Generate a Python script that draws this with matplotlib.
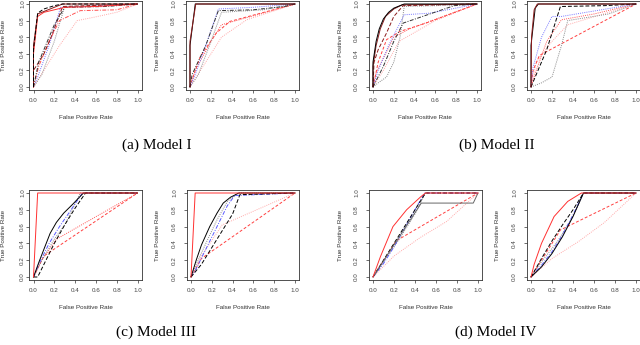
import matplotlib
matplotlib.use("Agg")
import matplotlib.pyplot as plt

# ROC curves: (style key, fpr points, tpr points)
roc_1a = [
    ("p:", [0, 0.1, 0.25, 0.42, 0.58, 0.8, 1], [0, 0.2, 0.5, 0.8, 0.84, 0.9, 1]),
    ("g:", [0, 0.08, 0.2, 0.3, 0.6, 1], [0, 0.15, 0.55, 0.97, 0.98, 1]),
    ("b:", [0, 0.04, 0.15, 0.26, 0.5, 1], [0, 0.12, 0.5, 0.96, 0.97, 1]),
    ("r-.", [0, 0.05, 0.15, 0.25, 0.45, 0.8, 1], [0, 0.25, 0.55, 0.8, 0.92, 0.93, 1]),
    ("dr--", [0, 0, 0.1, 0.16, 0.28, 1], [0, 0.2, 0.4, 0.57, 0.97, 1]),
    ("k-.", [0, 0.05, 0.2, 0.3, 0.7, 1], [0, 0.3, 0.75, 0.96, 0.97, 1]),
    ("r-", [0, 0, 0.04, 0.1, 0.3, 0.6, 1], [0, 0.4, 0.85, 0.9, 0.96, 0.97, 1]),
    ("dr-", [0, 0, 0.04, 0.28, 1], [0, 0.5, 0.88, 1, 1]),
    ("k--", [0, 0, 0.04, 0.1, 0.2, 0.28, 1], [0, 0.45, 0.89, 0.94, 0.98, 1, 1]),
]
roc_1b = [
    ("p:", [0, 0.1, 0.3, 0.54, 1], [0, 0.2, 0.6, 0.81, 1]),
    ("r--", [0, 0.05, 0.1, 0.25, 0.38, 1], [0, 0.2, 0.37, 0.65, 0.79, 1]),
    ("r:", [0, 0.05, 0.2, 0.3, 1], [0, 0.2, 0.55, 0.75, 1]),
    ("g:", [0, 0.08, 0.2, 0.3, 0.7, 1], [0, 0.15, 0.55, 0.9, 0.93, 1]),
    ("b:", [0, 0.05, 0.15, 0.27, 0.6, 1], [0, 0.15, 0.5, 0.94, 0.96, 1]),
    ("k-.", [0, 0.02, 0.15, 0.27, 0.6, 0.9, 1], [0, 0.15, 0.5, 0.92, 0.93, 0.97, 1]),
    ("k-", [0, 0, 0.05, 1], [0, 0.5, 1, 1]),
    ("dr-", [0, 0, 0.055, 1], [0, 0.55, 1, 1]),
]
roc_2a = [
    ("p:", [0, 0.1, 0.25, 0.6, 1], [0, 0.2, 0.55, 0.8, 1]),
    ("r:", [0, 0.03, 0.12, 0.2, 0.35, 1], [0, 0.17, 0.4, 0.6, 0.7, 1]),
    ("r--", [0, 0.05, 0.13, 0.26, 0.51, 1], [0, 0.3, 0.57, 0.67, 0.77, 1]),
    ("g:", [0, 0.05, 0.13, 0.2, 0.26, 0.3, 0.6, 1], [0, 0.05, 0.12, 0.3, 0.6, 0.97, 0.98, 1]),
    ("b:", [0, 0.05, 0.15, 0.3, 0.55, 1], [0, 0.2, 0.5, 0.87, 0.89, 1]),
    ("k-.", [0, 0.1, 0.2, 0.29, 0.78, 1], [0, 0.25, 0.55, 0.77, 0.98, 1]),
    ("dr--", [0, 0.01, 0.05, 0.13, 0.2, 0.29, 1], [0, 0.3, 0.45, 0.65, 0.85, 0.98, 1]),
    ("dr-", [0, 0, 0.03, 0.07, 0.12, 0.2, 0.28, 1], [0, 0.25, 0.5, 0.7, 0.85, 0.94, 0.99, 1]),
    ("k-", [0, 0, 0.03, 0.06, 0.1, 0.15, 0.2, 0.3, 1], [0, 0.3, 0.55, 0.7, 0.82, 0.9, 0.95, 1, 1]),
]
roc_2b = [
    ("p:", [0, 0.05, 0.2, 0.35, 1], [0, 0.3, 0.55, 0.75, 1]),
    ("r--", [0, 0.02, 0.08, 1], [0, 0.2, 0.38, 1]),
    ("r:", [0, 0.05, 0.15, 0.29, 0.6, 1], [0, 0.2, 0.55, 0.81, 0.88, 1]),
    ("g:", [0, 0.1, 0.2, 0.29, 0.35, 0.74, 1], [0, 0.05, 0.12, 0.5, 0.8, 0.88, 1]),
    ("b:", [0, 0.02, 0.1, 0.2, 0.29, 1], [0, 0.24, 0.6, 0.85, 0.85, 1]),
    ("k--", [0, 0.05, 0.15, 0.28, 0.7, 1], [0, 0.15, 0.45, 0.97, 0.98, 1]),
    ("k-", [0, 0, 0.04, 0.07, 1], [0, 0.5, 0.95, 1, 1]),
    ("dr-", [0, 0.005, 0.03, 0.06, 1], [0, 0.6, 0.93, 1, 1]),
]
roc_3a = [
    ("r--", [0, 0.1, 1], [0, 0.25, 1]),
    ("r:", [0, 0.08, 0.22, 1], [0, 0.2, 0.45, 1]),
    ("g:", [0, 0.08, 0.2, 0.3, 0.45, 1], [0, 0.2, 0.45, 0.62, 1, 1]),
    ("b-.", [0, 0.05, 0.15, 0.25, 0.35, 0.47, 1], [0, 0.15, 0.4, 0.6, 0.78, 1, 1]),
    ("k--", [0, 0.04, 0.1, 0.2, 0.3, 0.4, 0.5, 1], [0, 0, 0.15, 0.4, 0.62, 0.82, 1, 1]),
    ("k-", [0, 0.05, 0.1, 0.16, 0.22, 0.29, 0.38, 0.48, 1], [0, 0.17, 0.33, 0.52, 0.65, 0.76, 0.87, 1, 1]),
    ("r-", [0, 0.04, 1], [0, 1, 1]),
]
roc_3b = [
    ("r--", [0, 0.1, 1], [0, 0.22, 1]),
    ("p:", [0, 0.1, 0.3, 1], [0, 0.25, 0.62, 1]),
    ("g:", [0, 0.05, 0.15, 0.25, 0.35, 0.45, 1], [0, 0.15, 0.42, 0.68, 0.9, 1, 1]),
    ("b-.", [0, 0.05, 0.15, 0.25, 0.35, 0.42, 1], [0, 0.1, 0.35, 0.6, 0.85, 0.97, 1]),
    ("k--", [0, 0.1, 0.2, 0.3, 0.4, 0.47, 1], [0, 0.15, 0.35, 0.55, 0.75, 0.98, 1]),
    ("k-", [0, 0.05, 0.1, 0.18, 0.25, 0.31, 0.38, 0.46, 1], [0, 0.2, 0.38, 0.6, 0.76, 0.88, 0.95, 1, 1]),
    ("r-", [0, 0.04, 1], [0, 1, 1]),
]
roc_4a = [
    ("p:", [0, 0.2, 0.45, 0.7, 1], [0, 0.25, 0.47, 0.66, 1]),
    ("r--", [0, 0.22, 1], [0, 0.43, 1]),
    ("g:", [0, 0.1, 0.25, 0.4, 0.5, 1], [0, 0.18, 0.45, 0.75, 1, 1]),
    ("b-.", [0, 0.1, 0.2, 0.3, 0.4, 0.49, 1], [0, 0.16, 0.36, 0.58, 0.8, 1, 1]),
    ("k--", [0, 0.1, 0.2, 0.3, 0.4, 0.5, 1], [0, 0.2, 0.4, 0.6, 0.8, 1, 1]),
    ("gr-", [0, 0.46, 0.955, 1], [0, 0.88, 0.88, 1]),
    ("r-", [0, 0.07, 0.19, 0.32, 0.45, 0.5, 1], [0, 0.24, 0.6, 0.8, 0.95, 1, 1]),
]
roc_4b = [
    ("p:", [0, 0.2, 0.45, 0.7, 1], [0, 0.22, 0.42, 0.65, 1]),
    ("r--", [0, 0.28, 1], [0, 0.56, 1]),
    ("g:", [0, 0.1, 0.25, 0.4, 0.5, 1], [0, 0.18, 0.42, 0.72, 1, 1]),
    ("b-.", [0, 0.1, 0.2, 0.3, 0.4, 0.5, 1], [0, 0.14, 0.3, 0.5, 0.74, 1, 1]),
    ("k--", [0, 0.1, 0.2, 0.3, 0.4, 0.5, 1], [0, 0.22, 0.43, 0.62, 0.8, 1, 1]),
    ("k-", [0, 0.1, 0.2, 0.3, 0.4, 0.5, 1], [0, 0.12, 0.28, 0.48, 0.72, 1, 1]),
    ("r-", [0, 0.03, 0.1, 0.22, 0.35, 0.48, 1], [0, 0.15, 0.4, 0.72, 0.9, 1, 1]),
]

captions = ["(a) Model I", "(b) Model II", "(c) Model III", "(d) Model IV"]
ticks = [0.0, 0.2, 0.4, 0.6, 0.8, 1.0]

styles = {
    "k-": ("black", "-"), "dr-": ("#8b1a1a", "-"), "r-": ("#ff3030", "-"),
    "gr-": ("#666666", "-"),
    "k--": ("black", (0, (4, 2))), "dr--": ("#8b1a1a", (0, (4, 2))),
    "r--": ("#ff4040", (0, (3, 2))),
    "k-.": ("#333333", (0, (4, 1.5, 1, 1.5))), "r-.": ("#ff5050", (0, (4, 1.5, 1, 1.5))),
    "b-.": ("#5a5aff", (0, (4, 1.5, 1, 1.5))),
    "b:": ("#7777ff", (0, (1, 1.2))), "g:": ("#888888", (0, (1, 1.2))),
    "r:": ("#ff5555", (0, (1, 1.2))), "p:": ("#ffaaaa", (0, (1, 1.2))),
}

W, H = 640, 345
fig = plt.figure(figsize=(6.4, 3.45), dpi=100)


def px_axes(x0, x1, ytop, ybot):
    # x0/x1: pixel of data 0 and 1; ytop/ybot: pixel of data 1 and 0 (R 4% padding)
    sx = (x1 - x0) * 0.04
    sy = (ybot - ytop) * 0.04
    left, right = x0 - sx, x1 + sx
    top, bot = ytop - sy, ybot + sy
    ax = fig.add_axes([left / W, 1 - bot / H, (right - left) / W, (bot - top) / H])
    return ax, left, right


def draw(ax, curves, left, right, ylab_px, pad_y):
    for key, fpr, tpr in curves:
        c, ls = styles[key]
        ax.plot(fpr, tpr, color=c, linestyle=ls, linewidth=0.7)
    ax.set_xlim(-0.04, 1.04)
    ax.set_ylim(-0.04, 1.04)
    ax.set_xticks(ticks)
    ax.set_yticks(ticks)
    ax.set_xticklabels(["%.1f" % t for t in ticks])
    ax.set_yticklabels(["%.1f" % t for t in ticks], rotation=90, va="center")
    ax.tick_params(direction="out", length=2.5, width=0.5, labelsize=4.5,
                   colors="#333333", labelcolor="#444444")
    ax.tick_params(axis="x", pad=3)
    ax.tick_params(axis="y", pad=pad_y)
    for lab in ax.get_xticklabels() + ax.get_yticklabels():
        lab.set_family("Liberation Sans")
    for s in ax.spines.values():
        s.set_linewidth(0.6)
        s.set_color("#333333")
    ax.set_xlabel("False Positive Rate", fontsize=4.5, family="Liberation Sans", color="#333333")
    ax.set_ylabel("True Positive Rate", fontsize=4.5, family="Liberation Sans", color="#333333")
    ax.xaxis.set_label_coords(0.5, -0.27)
    ax.yaxis.set_label_coords((ylab_px - left) / (right - left), 0.5)


panels = [
    (roc_1a, 33.5, 137.5, 4, 87, 6, 0.5),
    (roc_1b, 190, 295, 4, 87, 160, 4.5),
    (roc_2a, 373, 477, 4, 87, 343, 4.5),
    (roc_2b, 531, 636, 4, 87, 500, 4.5),
    (roc_3a, 33.5, 137.5, 193, 277, 6, 0.5),
    (roc_3b, 191, 295, 193, 277, 160, 4.5),
    (roc_4a, 373, 478, 193, 277, 343, 4.5),
    (roc_4b, 531, 636, 193, 277, 500, 4.5),
]
for curves, x0, x1, yt, yb, ylab, pady in panels:
    ax, l, r = px_axes(x0, x1, yt, yb)
    draw(ax, curves, l, r, ylab, pady)

cap_pos = [(157, 145), (497, 145), (156, 332), (496, 332)]
for txt, (cx, cy) in zip(captions, cap_pos):
    fig.text(cx / W, 1 - cy / H, txt, ha="center", va="center",
             family="Liberation Serif", fontsize=11)

fig.savefig("out.png", dpi=100)
